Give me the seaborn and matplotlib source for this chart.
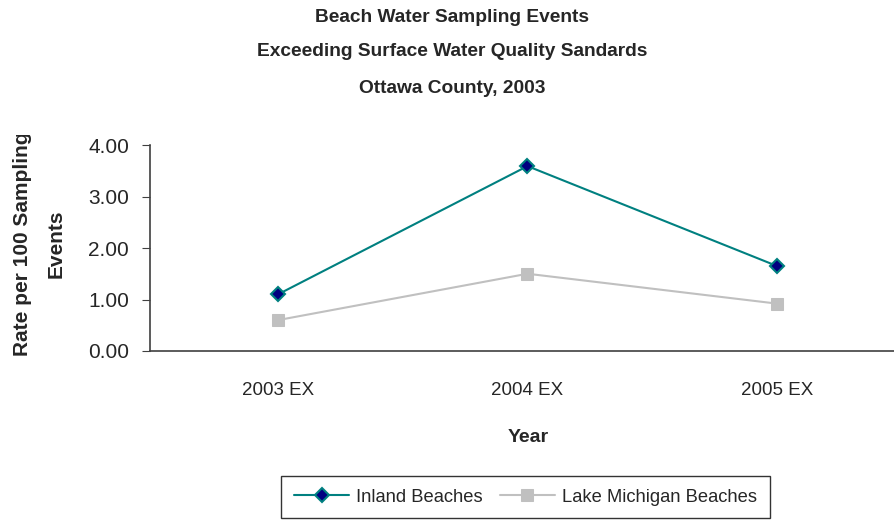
import matplotlib
matplotlib.use("Agg")
import matplotlib.pyplot as plt
from matplotlib.transforms import Bbox, TransformedBbox
import seaborn as sns
import pandas as pd

years = ["2003 EX", "2004 EX", "2005 EX"]
inland = [1.10, 3.59, 1.65]
lake_michigan = [0.60, 1.50, 0.92]
title_lines = ["Beach Water Sampling Events",
               "Exceeding Surface Water Quality Sandards",
               "Ottawa County, 2003"]

sns.set_style("white")
plt.rcParams['font.family'] = ['Liberation Sans Narrow', 'Liberation Sans', 'DejaVu Sans']

df = pd.DataFrame({
    "Year": years * 2,
    "Rate": inland + lake_michigan,
    "Series": ["Inland Beaches"] * 3 + ["Lake Michigan Beaches"] * 3,
})
df["pos"] = list(range(len(years))) * 2

fig = plt.figure(figsize=(8.94, 5.2), dpi=100)
# axes runs off the right edge, like the original
ax = fig.add_axes([150 / 894, 1 - 351 / 520, 750 / 894, 206 / 520])

sns.lineplot(data=df[df.Series == "Inland Beaches"], x="pos", y="Rate", ax=ax,
             color="#008080", lw=1.5, marker="D", markersize=7,
             markerfacecolor="#000080", markeredgecolor="#008080", markeredgewidth=1.5,
             label="Inland Beaches")
sns.lineplot(data=df[df.Series == "Lake Michigan Beaches"], x="pos", y="Rate", ax=ax,
             color="#C0C0C0", lw=1.5, marker="s", markersize=8,
             markerfacecolor="#C0C0C0", markeredgecolor="#C0C0C0",
             label="Lake Michigan Beaches")

ax.set_xlim(-0.513, -0.513 + 750 / 249.5)
ax.set_ylim(0, 4)
ax.set_yticks([0, 1, 2, 3, 4])
ax.set_yticklabels([f"{v:.2f}" for v in [0, 1, 2, 3, 4]], fontsize=15)
ax.set_xticks([0.5, 1.5])
ax.set_xticklabels([])
ax.set_xticks(range(len(years)), minor=True)
ax.set_xticklabels(years, minor=True, fontsize=13.5)
ax.tick_params(axis="x", which="major", direction="out", length=8, color="#404040")
ax.tick_params(axis="x", which="minor", length=0, pad=22)
ax.tick_params(axis="y", direction="out", length=6, color="#404040", pad=9, left=True)
for s in ["top", "right"]:
    ax.spines[s].set_visible(False)
for s in ["left", "bottom"]:
    ax.spines[s].set_color("#404040")
    ax.spines[s].set_linewidth(1.2)

ax.set_xlabel("")
ax.set_ylabel("")

for line, ypx in zip(title_lines, [18, 52, 88]):
    fig.text(452 / 894, 1 - ypx / 520, line, ha="center", va="center", fontsize=13.8, fontweight="bold")
fig.text(528 / 894, 1 - 438 / 520, "Year", ha="center", va="center", fontsize=14, fontweight="bold")

# the original label is cut off at the top
ylab = fig.text(39.5 / 894, 1 - 244 / 520, "Rate per 100 Sampling\nEvents", ha="center", va="center",
                rotation=90, fontsize=15, fontweight="bold", linespacing=2.0)
ylab.set_clip_box(TransformedBbox(Bbox([[0, 0], [1, 1 - 135 / 520]]), fig.transFigure))
ylab.set_clip_on(True)

ax.get_legend().remove()
leg = fig.legend(loc="center", bbox_to_anchor=(525.5 / 894, 1 - 497 / 520), ncol=2,
                 fontsize=13.2, frameon=True, fancybox=False, edgecolor="black",
                 handlelength=3.0, columnspacing=0.9, handletextpad=0.4, borderpad=0.7)
leg.get_frame().set_linewidth(1.0)

fig.savefig("out.png", dpi=100)
